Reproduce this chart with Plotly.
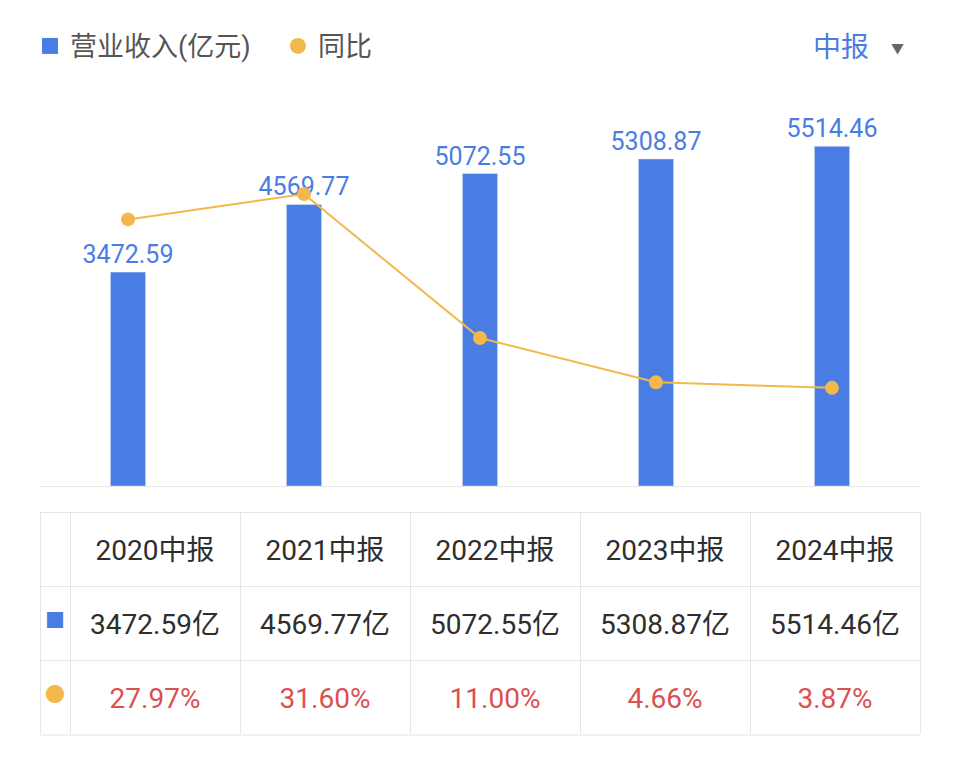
import plotly.graph_objects as go

years = ["2020中报", "2021中报", "2022中报", "2023中报", "2024中报"]
revenue = [3472.59, 4569.77, 5072.55, 5308.87, 5514.46]
yoy = [27.97, 31.60, 11.00, 4.66, 3.87]

BLUE = "#4a7de3"
ORANGE = "#f2b84b"
RED = "#dc5050"
DARK = "#2e2e2e"
GRID = "#e6e6e6"
FONT = "Roboto, Noto Sans CJK SC, sans-serif"

W, H = 960, 771
OFF = 8  # page body margin


def fx(px):
    return (px - OFF) / W


def fy(px):
    return 1 - (px - OFF) / H


fig = go.Figure()

fig.add_trace(go.Bar(
    x=years, y=revenue, name="营业收入(亿元)", showlegend=False,
    marker=dict(color=BLUE), width=0.2,
    text=[f"{v:.2f}" for v in revenue], textposition="outside",
    textfont=dict(color=BLUE, size=25, family=FONT),
    constraintext="none", cliponaxis=False,
))
fig.add_trace(go.Scatter(
    x=years, y=yoy, yaxis="y2", mode="lines+markers", showlegend=False,
    line=dict(color=ORANGE, width=2), marker=dict(color=ORANGE, size=14),
))
# legend entries
fig.add_trace(go.Scatter(
    x=[None], y=[None], mode="markers", name="营业收入(亿元)",
    marker=dict(color=BLUE, size=16, symbol="square"),
))
fig.add_trace(go.Scatter(
    x=[None], y=[None], yaxis="y2", mode="markers", name="同比",
    marker=dict(color=ORANGE, size=16, symbol="circle"),
))

cols = [170] * len(years)
table_x = [fx(40), fx(920)]

# grid
fig.add_trace(go.Table(
    domain=dict(x=table_x, y=[fy(735), fy(512)]),
    columnwidth=[30] + cols,
    header=dict(values=[""] * (len(years) + 1), height=74,
                fill=dict(color="white"), line=dict(color=GRID, width=1)),
    cells=dict(values=[["", ""]] * (len(years) + 1), height=74,
               fill=dict(color="white"), line=dict(color=GRID, width=1)),
))
# text, shifted down to sit in the middle of each cell
shift = 19
fig.add_trace(go.Table(
    domain=dict(x=table_x, y=[fy(735 + shift), fy(512 + shift)]),
    columnwidth=[30] + cols,
    header=dict(
        values=[""] + years, height=74,
        fill=dict(color="rgba(0,0,0,0)"), line=dict(color="rgba(0,0,0,0)", width=0),
        font=dict(color=DARK, size=28, family=FONT), align="center",
    ),
    cells=dict(
        values=[["■", "●"]] + [[f"{r:.2f}亿", f"{p:.2f}%"] for r, p in zip(revenue, yoy)],
        height=74,
        fill=dict(color="rgba(0,0,0,0)"), line=dict(color="rgba(0,0,0,0)", width=0),
        font=dict(
            color=[[BLUE, ORANGE]] + [[DARK, RED]] * len(years),
            size=[20] + [28] * len(years), family=FONT,
        ),
        align="center",
    ),
))

fig.update_layout(
    width=W, height=H,
    margin=dict(l=0, r=0, t=0, b=0),
    paper_bgcolor="white", plot_bgcolor="white",
    font=dict(family=FONT, color="#555555"),
    showlegend=True,
    legend=dict(
        orientation="h", x=0.0229, y=0.982, xanchor="left", yanchor="top",
        font=dict(size=27, color="#555555", family=FONT),
        entrywidth=203, entrywidthmode="pixels",
    ),
    xaxis=dict(
        domain=[fx(40), fx(920)], showticklabels=False, ticks="",
        showline=True, linecolor="#e8e8e8", linewidth=1, showgrid=False,
    ),
    yaxis=dict(
        domain=[fy(486), fy(100)], range=[0, 6266],
        visible=False, showgrid=False, zeroline=False,
    ),
    yaxis2=dict(
        overlaying="y", range=[-10.17, 45.05],
        visible=False, showgrid=False, zeroline=False,
    ),
    bargap=0.8,
    shapes=[dict(
        type="line", xref="paper", yref="paper",
        x0=fx(40), x1=fx(920), y0=fy(735), y1=fy(735),
        line=dict(color=GRID, width=1),
    )],
)

fig.add_annotation(
    text="中报", xref="paper", yref="paper", x=fx(871), y=fy(47),
    xanchor="right", yanchor="middle", showarrow=False,
    font=dict(size=28, color=BLUE, family=FONT),
)
fig.add_annotation(
    text="▼", xref="paper", yref="paper", x=fx(897), y=fy(48),
    xanchor="center", yanchor="middle", showarrow=False,
    font=dict(size=13, color="#666666", family=FONT),
)

fig.write_html("out.html")
